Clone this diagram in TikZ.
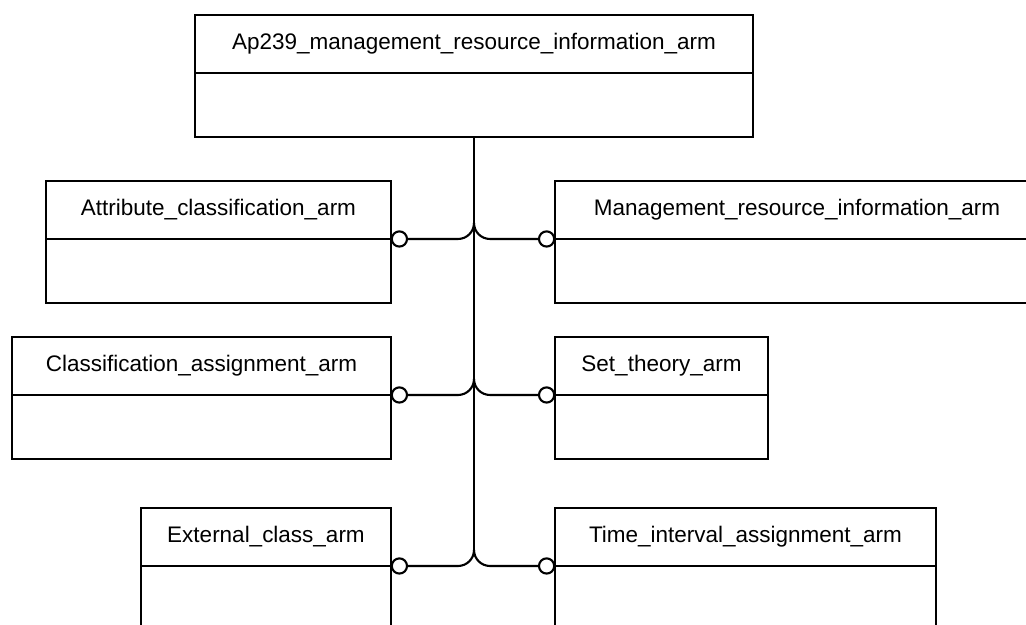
\documentclass[tikz,border=0pt]{standalone}
\usepackage{fontspec}
\setmainfont{Liberation Sans}
\usetikzlibrary{positioning}

\tikzset{
    head/.style={draw, line width=2pt, outer sep=0pt, inner sep=0pt, minimum height=1.45cm, font=\fontsize{16}{19}\selectfont},
    body/.style={draw, line width=2pt, outer sep=0pt, inner sep=0pt, minimum height=1.6cm},
    port/.style={circle, draw, line width=1.5pt, fill=white, outer sep=0pt, inner sep=0pt, minimum size=0.38cm},
    link/.style={line width=1.5pt}
}

\begin{document}
\begin{tikzpicture}

\clip (0,0) rectangle (25.65,15.625);

\node[head, minimum width=13.95cm, anchor=north] (ap) at (11.85,15.25) {Ap239\_management\_resource\_information\_arm};
\node[body, minimum width=13.95cm, below=0pt of ap] (apb) {};

\foreach \name/\y/\w/\txt in {attr/9.65/8.625/Attribute\_classification\_arm, cls/5.75/9.475/Classification\_assignment\_arm, ext/1.475/6.25/External\_class\_arm} {
    \node[head, minimum width=\w cm, anchor=south east] (\name) at (9.775,\y) {\txt};
    \node[body, minimum width=\w cm, below=0pt of \name] (\name b) {};
    \node[port, right=0.02cm of \name b.north east] (\name c) {};
}

\foreach \name/\y/\w/\txt in {mgmt/9.65/12.1/Management\_resource\_information\_arm, set/5.75/5.325/Set\_theory\_arm, time/1.475/9.525/Time\_interval\_assignment\_arm} {
    \node[head, minimum width=\w cm, anchor=south west] (\name) at (13.875,\y) {\txt};
    \node[body, minimum width=\w cm, below=0pt of \name] (\name b) {};
    \node[port, left=0.02cm of \name b.north west] (\name c) {};
}

\coordinate (foot) at ([yshift=0.4cm]extc.east -| apb.south);
\draw[link] (apb.south) -- (foot);

\foreach \l/\r in {attr/mgmt, cls/set, ext/time} {
    \draw[link] (\l c.east) -- ([xshift=-0.4cm]\l c.east -| apb.south) arc[start angle=-90, end angle=0, radius=0.4cm];
    \draw[link] (\r c.west) -- ([xshift=0.4cm]\r c.west -| apb.south) arc[start angle=-90, end angle=-180, radius=0.4cm];
}

\end{tikzpicture}
\end{document}
